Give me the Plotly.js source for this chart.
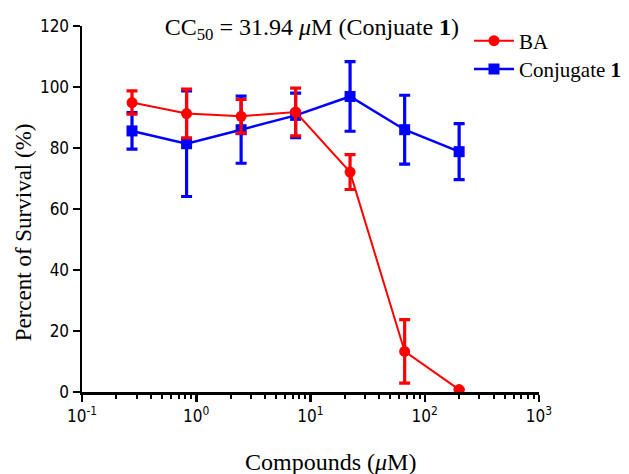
<!DOCTYPE html>
<html>
<head>
<meta charset="utf-8">
<script src="https://cdn.plot.ly/plotly-3.0.1.min.js"></script>
<style>html,body{margin:0;padding:0;background:#fff;}#chart{width:629px;height:474px;}</style>
</head>
<body>
<div id="chart"></div>
<script>
// Concentrations (µM), 3-fold dilution series
const concentrations = [0.274, 0.823, 2.47, 7.41, 22.2, 66.7, 200];
// BA survival (%) and SD
const baSurvival = [94.9, 91.3, 90.4, 91.8, 72.1, 13.3, 0.8];
const baError    = [3.8, 8.0, 5.5, 7.8, 5.7, 10.4, 0];
// Conjugate 1 survival (%) and SD
const conjSurvival = [85.6, 81.4, 86.0, 90.7, 96.9, 86.0, 78.8];
const conjError    = [6.0, 17.3, 11.0, 7.3, 11.4, 11.3, 9.2];
// Axis ticks
const xTickVals = [0.1, 1, 10, 100, 1000];
const xTickText = ['10<sup>-1</sup>', '10<sup>0</sup>', '10<sup>1</sup>', '10<sup>2</sup>', '10<sup>3</sup>'];
const yTickVals = [0, 20, 40, 60, 80, 100, 120];

const minorVals = [];
for (let d = -1; d <= 2; d++) {
  for (let k = 2; k <= 9; k++) minorVals.push(k * Math.pow(10, d));
}

const serif = 'Liberation Serif, Times New Roman, serif';
const narrow = 'Liberation Sans Narrow, DejaVu Sans Condensed, Arial Narrow, sans-serif';

const traces = [
  {
    x: concentrations, y: conjSurvival, name: 'Conjugate <b>1</b>',
    type: 'scatter', mode: 'lines+markers', legend: 'legend2',
    line: {color: '#0000ff', width: 2.5},
    marker: {symbol: 'square', size: 11, color: '#0000ff'},
    error_y: {type: 'data', array: conjError, visible: true, color: '#0000ff', thickness: 3.2, width: 5.5},
    cliponaxis: false
  },
  {
    x: concentrations, y: baSurvival, name: 'BA',
    type: 'scatter', mode: 'lines+markers', legend: 'legend',
    line: {color: '#ff0000', width: 2},
    marker: {symbol: 'circle', size: 11, color: '#ff0000'},
    error_y: {type: 'data', array: baError, visible: true, color: '#ff0000', thickness: 3.2, width: 5.5},
    cliponaxis: false
  }
];

const legendCommon = {
  xanchor: 'left', yanchor: 'middle', itemwidth: 40,
  font: {family: serif, size: 21, color: '#000'},
  bgcolor: 'rgba(0,0,0,0)', borderwidth: 0
};

const layout = {
  width: 629, height: 474,
  margin: {l: 82, r: 90, t: 26, b: 82, autoexpand: false},
  paper_bgcolor: '#fff', plot_bgcolor: '#fff',
  font: {family: serif, color: '#000'},
  title: {
    text: 'CC<sub>50</sub> = 31.94 <i>μ</i>M (Conjuate <b>1</b>)',
    font: {family: serif, size: 24, color: '#000'},
    x: 0.503, xref: 'paper', y: 1 - 27/474, yref: 'container', yanchor: 'middle'
  },
  xaxis: {
    type: 'log', range: [-1, 3], automargin: false,
    tickmode: 'array', tickvals: xTickVals, ticktext: xTickText,
    ticks: 'outside', ticklen: 7, tickwidth: 2.5, tickcolor: '#000',
    minor: {tickmode: 'array', tickvals: minorVals, ticks: 'outside', ticklen: 4, tickwidth: 2, tickcolor: '#000', showgrid: false},
    showline: true, linewidth: 2.5, linecolor: '#000',
    showgrid: false, zeroline: false,
    tickfont: {family: narrow, size: 17, color: '#000'}
  },
  yaxis: {
    range: [0, 120], automargin: false,
    tickmode: 'array', tickvals: yTickVals,
    ticks: 'outside', ticklen: 7, tickwidth: 2.5, tickcolor: '#000',
    showline: true, linewidth: 2.5, linecolor: '#000',
    showgrid: false, zeroline: false,
    tickfont: {family: narrow, size: 17, color: '#000'}
  },
  annotations: [
    {
      text: 'Compounds (<i>μ</i>M)', showarrow: false,
      xref: 'paper', yref: 'paper', x: (330 - 82) / 457, y: (391.7 - 462) / 366,
      xanchor: 'center', yanchor: 'middle',
      font: {family: serif, size: 24, color: '#000'}
    },
    {
      text: 'Percent of Survival (%)', showarrow: false, textangle: -90,
      xref: 'paper', yref: 'paper', x: (23 - 82) / 457, y: (391.7 - 232) / 366,
      xanchor: 'center', yanchor: 'middle',
      font: {family: serif, size: 23, color: '#000'}
    }
  ],
  showlegend: true,
  legend: Object.assign({x: (469 - 82) / 457, y: (391.7 - 40.7) / 366}, legendCommon),
  legend2: Object.assign({x: (469 - 82) / 457, y: (391.7 - 69) / 366}, legendCommon)
};

Plotly.newPlot('chart', traces, layout, {displayModeBar: false, staticPlot: true});
</script>
</body>
</html>
